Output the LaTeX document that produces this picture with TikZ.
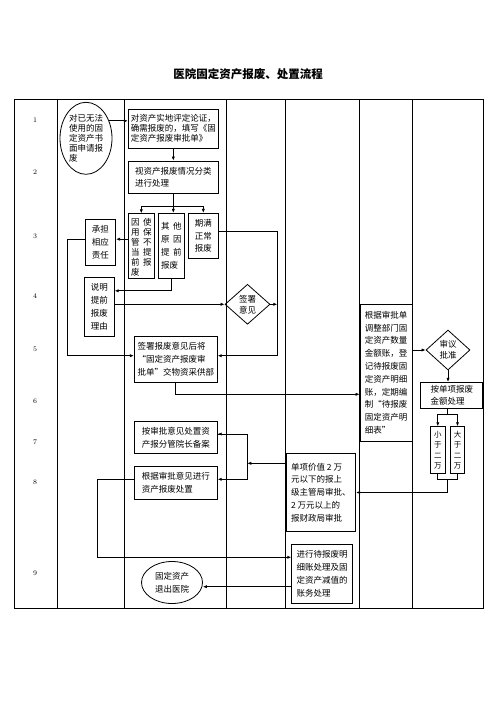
\documentclass[tikz,border=0pt]{standalone}
\usepackage{fontspec}
\newfontfamily\cjk{Noto Sans CJK SC}
\usetikzlibrary{arrows.meta,shapes.geometric}
\begin{document}
\begin{tikzpicture}[x=1pt,y=-1pt,
  ln/.style={line width=0.7pt},
  arr/.style={line width=0.7pt,-{Latex[length=4pt,width=3.2pt]}},
  box/.style={draw,line width=0.8pt,inner sep=0pt,align=left,font={\cjk\fontsize{8.5}{12.8}\selectfont}},
  tight/.style={font={\cjk\fontsize{8.5}{10}\selectfont}},
  oval/.style={draw,line width=0.8pt,ellipse,inner sep=0pt,align=left,font={\cjk\fontsize{8.5}{10}\selectfont}},
  dia/.style={draw,line width=0.8pt,diamond,inner sep=0pt,aspect=1.1,align=center,font={\cjk\fontsize{8.5}{11}\selectfont}},
  vbox/.style={draw,line width=0.8pt,inner sep=0pt,align=center,font={\cjk\fontsize{7.5}{10.5}\selectfont}},
  num/.style={font=\fontsize{7}{8}\selectfont}
]
\useasboundingbox (0,0) rectangle (496,702);
\node[font={\cjk\bfseries\fontsize{11.5}{13}\selectfont}] (title) at (248,74) {医院固定资产报废、处置流程};
% table
\draw[line width=0.8pt] (14,99) rectangle (483,608);
\foreach \xx in {57.3,124.7,226,285.7,359.3,412.3} \draw[line width=0.8pt] (\xx,99) -- (\xx,608);
% row numbers
\node[num] (r1) at (35,120) {1};
\node[num] (r2) at (35,172) {2};
\node[num] (r3) at (35,236) {3};
\node[num] (r4) at (35,296) {4};
\node[num] (r5) at (35,349) {5};
\node[num] (r6) at (35,401) {6};
\node[num] (r7) at (35,442) {7};
\node[num] (r8) at (35,482) {8};
\node[num] (r9) at (35,573) {9};
% nodes
\node[oval,minimum width=52,minimum height=72] (start) at (86,138.3) {对已无法\\使用的固\\定资产书\\面申请报\\废};
\node[box,tight,minimum width=90,minimum height=39.3] (b1) at (173.3,128.7) {对资产实地评定论证，\\确需报废的，填写《固\\定资产报废审批单》};
\node[box,minimum width=90,minimum height=32.3] (b2) at (173.3,177.2) {视资产报废情况分类\\进行处理};
\node[box,tight,minimum width=26,minimum height=65,anchor=north] (b3a) at (141.3,213.3) {\rule{0pt}{9pt}因\hspace{3.5pt}使\\用\hspace{3.5pt}保\\管\hspace{3.5pt}不\\当\hspace{3.5pt}提\\前\hspace{3.5pt}报\\废\hspace{15.5pt}};
\node[box,minimum width=26,minimum height=65] (b3b) at (171.3,245.8) {其\hspace{3.5pt}他\\原\hspace{3.5pt}因\\提\hspace{3.5pt}前\\报废\hspace{3.5pt}};
\node[box,minimum width=30,minimum height=45] (b3c) at (203.3,235.8) {期满\\正常\\报废};
\node[box,minimum width=30.7,minimum height=46] (cd) at (100.3,242.3) {承担\\相应\\责任};
\node[box,minimum width=30,minimum height=58.3] (sm) at (99.3,306.8) {说明\\提前\\报废\\理由};
\node[dia,minimum width=45,minimum height=40] (qs) at (247.5,304.3) {签署\\意见};
\node[box,minimum width=83,minimum height=46.3] (b5) at (175.8,359.2) {签署报废意见后将\\“固定资产报废审\\批单”交物资采供部};
\node[box,minimum width=52.3,minimum height=136.7] (big) at (386.2,372.7) {根据审批单\\调整部门固\\定资产数量\\金额账，登\\记待报废固\\定资产明细\\账，定期编\\制“待报废\\固定资产明\\细表”};
\node[dia,minimum width=44,minimum height=40] (sp) at (448,350) {审议\\批准};
\node[box,minimum width=62,minimum height=26] (ad) at (451.8,395.3) {按单项报废\\金额处理};
\node[vbox,minimum width=14.3,minimum height=46.7] (xy) at (437.8,450) {小\\于\\二\\万};
\node[vbox,minimum width=13.6,minimum height=46.7] (dy) at (457.5,450) {大\\于\\二\\万};
\node[box,minimum width=69.7,minimum height=78.4] (dj) at (320.8,492.5) {单项价值 2 万\\元以下的报上\\级主管局审批、\\2 万元以上的\\报财政局审批};
\node[box,minimum width=83,minimum height=31.6] (b7) at (175.8,437.5) {按审批意见处置资\\产报分管院长备案};
\node[box,minimum width=83,minimum height=32.3] (b8) at (175.8,482.8) {根据审批意见进行\\资产报废处置};
\node[box,minimum width=60.6,minimum height=59] (b9) at (322,573.8) {进行待报废明\\细账处理及固\\定资产减值的\\账务处理};
\node[oval,minimum width=61,minimum height=42,font={\cjk\fontsize{8.5}{12.5}\selectfont}] (endell) at (172,582.5) {固定资产\\退出医院};
% coordinates
\coordinate (br) at (173.3,206);
\coordinate (rc) at (277.3,304.3);
\coordinate (br2) at (447.3,414);
\coordinate (br3) at (447.3,479.3);
\coordinate (jn) at (247.3,463.3);
% connectors
\draw[arr] (start.37) -- (start.37 -| b1.west);
\draw[arr] (b1.south) -- (b2.north);
\draw[ln] (b2.south) -- (br);
\draw[ln] (br -| b3a.north) -- (br -| b3c.north);
\draw[arr] (br -| b3a.north) -- (b3a.north);
\draw[arr] (br) -- (br |- b3b.north);
\draw[arr] (br -| b3c.north) -- (b3c.north);
\draw[arr] ([yshift=7pt]b3a.west) -- ([yshift=7pt]b3a.west -| cd.east);
\draw[arr] ([yshift=3pt]cd.west) -- ++(-17,0) |- ([yshift=3.5pt]b5.west);
\draw[arr] (b3b.south) |- ([yshift=16pt]sm.east);
\draw[arr] (qs.west -| sm.east) -- (qs.west);
\draw[arr] (qs.east) -- (rc);
\draw[arr] ([yshift=4pt]b3c.east) -| (rc) |- ([yshift=3.5pt]b5.east);
\draw[arr] (b5.south) |- ([yshift=-21.6pt]big.west);
\draw[arr] (sp.west -| big.east) -- (sp.west);
\draw[arr] (sp.south) -- (sp.south |- ad.north);
\draw[ln] (br2 |- ad.south) -- (br2);
\draw[ln] (br2 -| xy.north) -- (br2 -| dy.north);
\draw[arr] (br2 -| xy.north) -- (xy.north);
\draw[arr] (br2 -| dy.north) -- (dy.north);
\draw[ln] (xy.south) |- (br3) -| (dy.south);
\draw[arr] (br3) |- (dj.east);
\draw[arr] ([yshift=29.2pt]dj.west) -- (jn);
\draw[ln] (jn) |- ([yshift=3.5pt]b7.east);
\draw[arr] (jn |- b7.east) ++(0,-3.5) -- ([yshift=3.5pt]b7.east);
\draw[arr] (jn) |- ([yshift=3.5pt]b8.east);
\draw[arr] ([yshift=3.5pt]b8.west) -- ++(-37,0) |- ([yshift=16.5pt]b9.west);
\draw[arr] ([yshift=-12.9pt]b9.west) -- ([yshift=-12.9pt]b9.west -| endell.east);
\end{tikzpicture}
\end{document}
